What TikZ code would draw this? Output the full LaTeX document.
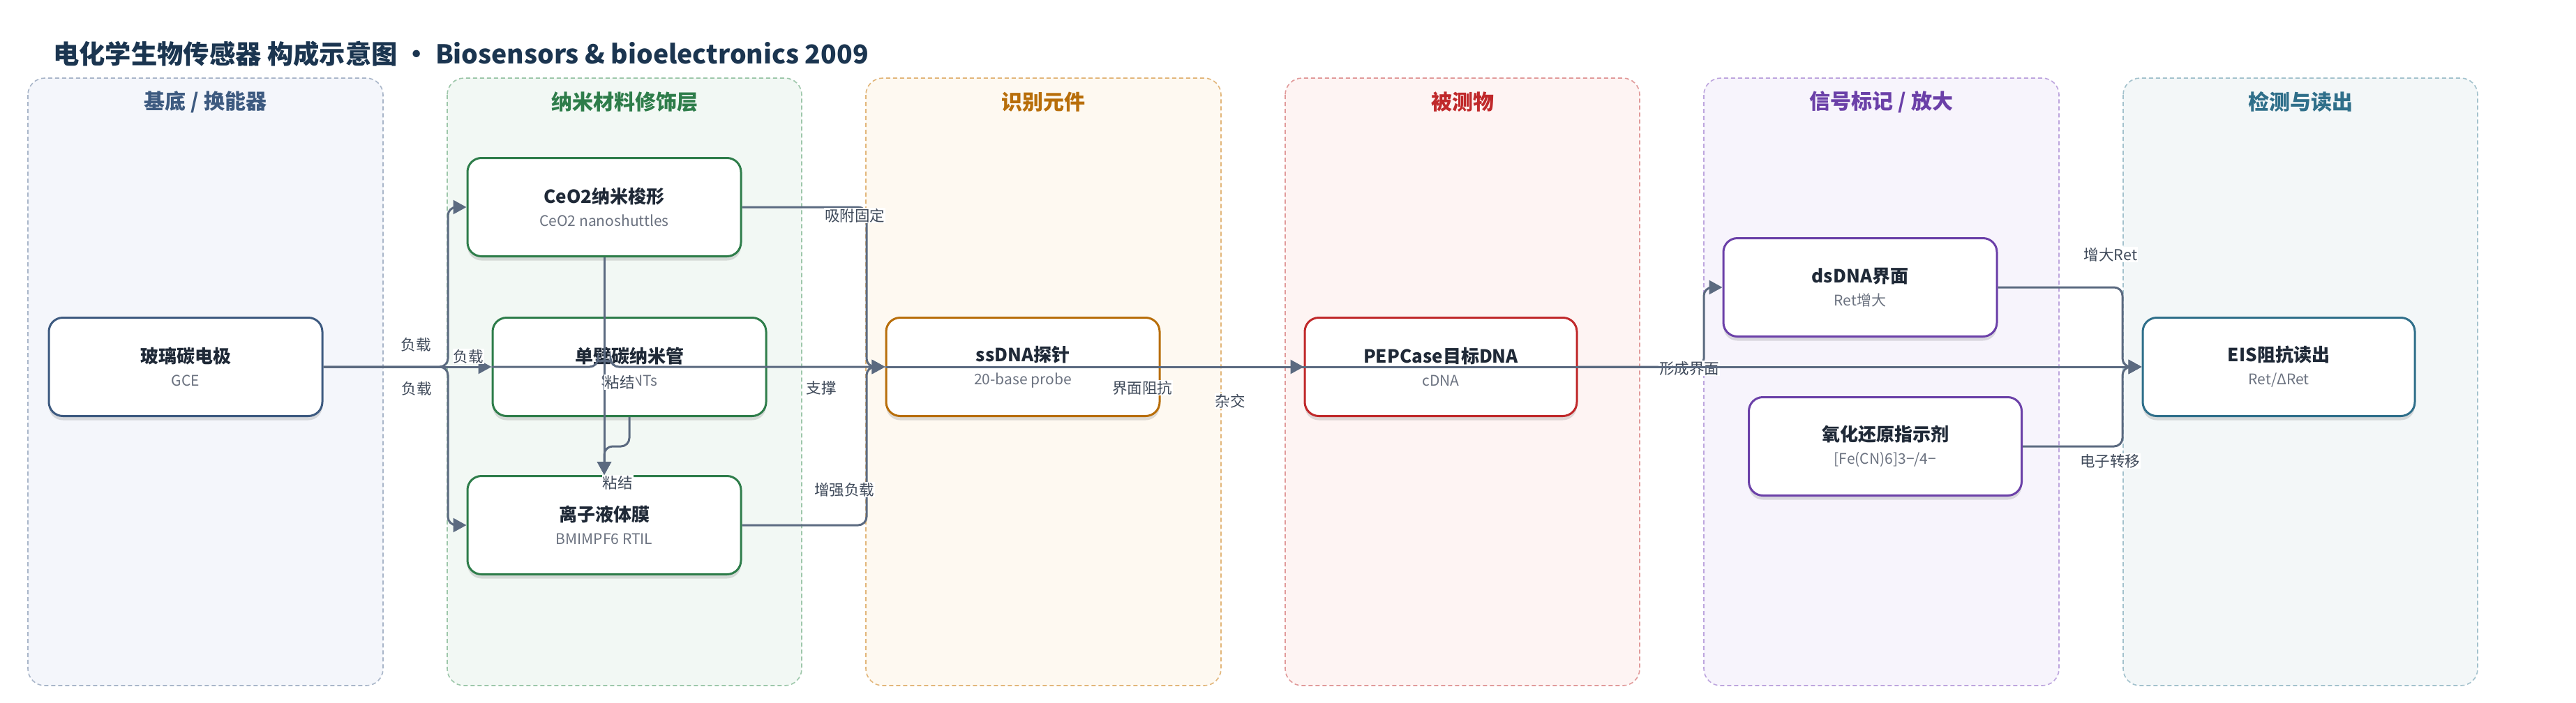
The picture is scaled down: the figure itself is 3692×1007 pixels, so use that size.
\documentclass[tikz,border=0pt]{standalone}
\usepackage{fontspec}
\setmainfont{Noto Sans CJK SC}
\usetikzlibrary{shadows,arrows.meta}
\definecolor{titlec}{HTML}{1B3550}
\definecolor{linec}{HTML}{5B6A80}
\definecolor{labc}{HTML}{3F4A5A}
\definecolor{boxt}{HTML}{1F2937}
\definecolor{subc}{HTML}{6B7280}
\definecolor{hA}{HTML}{3D5A80}\definecolor{fA}{HTML}{F4F6FB}\definecolor{bA}{HTML}{A9B6C9}
\definecolor{hB}{HTML}{2E7D4A}\definecolor{fB}{HTML}{F2F8F4}\definecolor{bB}{HTML}{9DC7AA}
\definecolor{hC}{HTML}{B86E0A}\definecolor{fC}{HTML}{FEF9F1}\definecolor{bC}{HTML}{E2B67A}
\definecolor{hD}{HTML}{C0292B}\definecolor{fD}{HTML}{FEF4F3}\definecolor{bD}{HTML}{E19A9A}
\definecolor{hE}{HTML}{6B40A8}\definecolor{fE}{HTML}{F7F4FC}\definecolor{bE}{HTML}{BDA5DE}
\definecolor{hF}{HTML}{2F6F8A}\definecolor{fF}{HTML}{F3F7F8}\definecolor{bF}{HTML}{A3C2CD}
\newcommand{\bx}[2]{{\fontsize{26}{30}\selectfont\bfseries\color{boxt}#1}\\{\fontsize{21}{25}\selectfont\color{subc}#2}}
\begin{document}
\begin{tikzpicture}[x=1pt,y=-1pt,
  lanebox/.style={dash pattern=on 6pt off 4pt, line width=1.6pt, rounded corners=24pt},
  lanehead/.style={font=\fontsize{30}{36}\selectfont\bfseries},
  box/.style={draw, line width=3pt, fill=white, rounded corners=20pt, minimum width=392pt, minimum height=141pt, align=center, inner sep=0pt,
    font=\fontsize{21}{33}\selectfont,
    drop shadow={shadow xshift=0pt, shadow yshift=-6pt, opacity=0.12, fill=black}},
  edge/.style={draw=linec, line width=3pt, rounded corners=12pt},
  arr/.style={-{Triangle[length=19pt,width=20pt]}},
  elabel/.style={fill=white, inner sep=1pt, text=labc, font=\fontsize{21.5}{24}\selectfont}]
\useasboundingbox (0,0) rectangle (3692,1007);
\fill[white] (0,0) rectangle (3692,1007);
% title
\node[anchor=west, font=\fontsize{37.3}{44}\selectfont\bfseries, text=titlec, inner sep=0pt] (title) at (76,77) {电化学生物传感器 构成示意图 • Biosensors \& bioelectronics 2009};
% lanes
\draw[lanebox, draw=bA, fill=fA] (40,112) rectangle (549,983);
\draw[lanebox, draw=bB, fill=fB] (641,112) rectangle (1149,983);
\draw[lanebox, draw=bC, fill=fC] (1241,112) rectangle (1750,983);
\draw[lanebox, draw=bD, fill=fD] (1842,112) rectangle (2350,983);
\draw[lanebox, draw=bE, fill=fE] (2442,112) rectangle (2951,983);
\draw[lanebox, draw=bF, fill=fF] (3043,112) rectangle (3551,983);
\node[lanehead, text=hA] (hdA) at (294.5,146) {基底 / 换能器};
\node[lanehead, text=hB] (hdB) at (895,146) {纳米材料修饰层};
\node[lanehead, text=hC] (hdC) at (1495.5,146) {识别元件};
\node[lanehead, text=hD] (hdD) at (2096,146) {被测物};
\node[lanehead, text=hE] (hdE) at (2696.5,146) {信号标记 / 放大};
\node[lanehead, text=hF] (hdF) at (3297,146) {检测与读出};
% boxes
\node[box, draw=hA] (gce) at (266,526) {\bx{玻璃碳电极}{GCE}};
\node[box, draw=hB] (ceo2) at (866,297) {\bx{CeO2纳米梭形}{CeO2 nanoshuttles}};
\node[box, draw=hB] (swcnt) at (902,526) {\bx{单壁碳纳米管}{SWCNTs}};
\node[box, draw=hB] (il) at (866,753) {\bx{离子液体膜}{BMIMPF6 RTIL}};
\node[box, draw=hC] (ssdna) at (1466,526) {\bx{ssDNA探针}{20-base probe}};
\node[box, draw=hD, minimum width=390pt] (pep) at (2065,526) {\bx{PEPCase目标DNA}{cDNA}};
\node[box, draw=hE] (ds) at (2666,412) {\bx{dsDNA界面}{Ret增大}};
\node[box, draw=hE, minimum width=391pt] (redox) at (2702,640) {\bx{氧化还原指示剂}{[Fe(CN)6]3−/4−}};
\node[box, draw=hF, minimum width=390pt] (eis) at (3266,526) {\bx{EIS阻抗读出}{Ret/ΔRet}};
% junction coordinates
\coordinate (busA) at (642,526);
\coordinate (busB) at (1242,526);
\coordinate (busC) at (2442,526);
\coordinate (busD) at (3042,526);
\coordinate (jmp) at (866,526);
% edges
\draw[edge, arr] (gce.east) -- (busA) |- (ceo2.west);
\draw[edge, arr] (gce.east) -- (busA) |- (il.west);
\draw[edge, arr] (gce.east) -- (swcnt.west);
\draw[edge, arr] (ceo2.east) -| (busB) -- (ssdna.west);
\draw[edge, arr] (il.east) -| (busB) -- (ssdna.west);
\draw[edge, arr] (swcnt.west) -- ([xshift=-9pt]jmp) arc (180:360:9) -- (ssdna.west);
\draw[edge, arr] (ceo2.south) -- (il.north);
\draw[edge, arr] (swcnt.south) -- ++(0,42) -| (il.north);
\draw[edge, arr] (ssdna.east) -- (pep.west);
\draw[edge, arr] (pep.east) -- (busC) |- (ds.west);
\draw[edge, arr] (ds.east) -| (busD) -- (eis.west);
\draw[edge, arr] (redox.east) -| (busD) -- (eis.west);
% labels
\node[elabel] (l1) at (596,494) {负载};
\node[elabel] (l2) at (671,511) {负载};
\node[elabel] (l3) at (597,557) {负载};
\node[elabel] (l4) at (1225,309) {吸附固定};
\node[elabel] (l5) at (1177,556) {支撑};
\node[elabel] (l6) at (1210,702) {增强负载};
\node[elabel] (l7) at (888,548) {粘结};
\node[elabel] (l8) at (885,692) {粘结};
\node[elabel] (l9) at (1763,575) {杂交};
\node[elabel] (l10) at (1637,556) {界面阻抗};
\node[elabel] (l11) at (2421,528) {形成界面};
\node[elabel] (l12) at (3025,365) {增大Ret};
\node[elabel] (l13) at (3024,661) {电子转移};
\draw[edge, arr] (ssdna.west) -- (eis.west);
\end{tikzpicture}
\end{document}
